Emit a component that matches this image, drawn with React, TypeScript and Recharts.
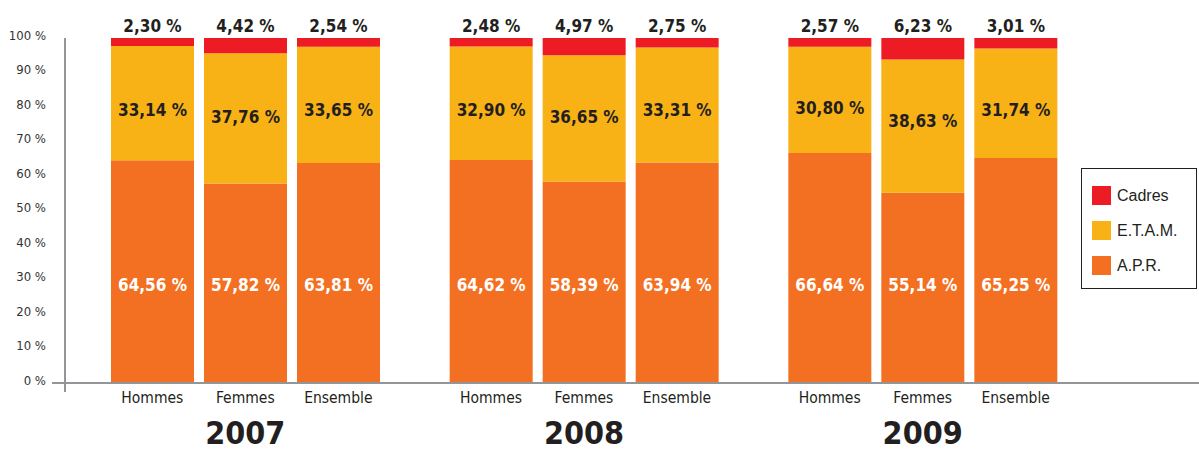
import { BarChart, Bar, XAxis, YAxis, LabelList } from "recharts";

const years = ["2007", "2008", "2009"];
const groups = ["Hommes", "Femmes", "Ensemble"];
const groupKeys = ["h", "f", "e"];

// values per year, in order Hommes / Femmes / Ensemble
const apr = [
  [64.56, 57.82, 63.81],
  [64.62, 58.39, 63.94],
  [66.64, 55.14, 65.25],
];
const etam = [
  [33.14, 37.76, 33.65],
  [32.9, 36.65, 33.31],
  [30.8, 38.63, 31.74],
];
const cadres = [
  [2.3, 4.42, 2.54],
  [2.48, 4.97, 2.75],
  [2.57, 6.23, 3.01],
];
const yTicks = [0, 10, 20, 30, 40, 50, 60, 70, 80, 90, 100];

const RED = "#ed1c24";
const YELLOW = "#f9b216";
const ORANGE = "#f37022";
const INK = "#231f20";
const GREY = "#939598";
const NARROW = "'DejaVu Sans Condensed', 'Liberation Sans', sans-serif";

const data = years.map((year, i) => {
  const row: Record<string, string | number> = { year };
  groupKeys.forEach((k, j) => {
    row[`${k}_apr`] = apr[i][j];
    row[`${k}_etam`] = etam[i][j];
    row[`${k}_cad`] = cadres[i][j];
  });
  return row;
});

const fmt = (v: number) => `${v.toFixed(2).replace(".", ",")} %`;

const BAR = 83;
const GAP = 10;

function YearTick({ x, y, payload }: any) {
  return (
    <g>
      {groups.map((g, j) => (
        <text key={g} x={x + (j - 1) * (BAR + GAP)} y={y + 12} textAnchor="middle"
          fontFamily={NARROW} fontSize={15.5} fill={INK}>{g}</text>
      ))}
      <text x={x} y={y + 53} textAnchor="middle" fontFamily={NARROW} fontSize={32}
        fontWeight="bold" fill={INK}>{payload.value}</text>
    </g>
  );
}

function AprLabel({ x, y, width, height, value }: any) {
  return (
    <text x={x + width / 2} y={y + height - 92} textAnchor="middle" fontFamily={NARROW}
      fontSize={17} fontWeight="bold" fill="#fff">{fmt(value)}</text>
  );
}

// E.T.A.M. labels sit roughly level across bars, nudged toward the segment middle
function EtamLabel({ x, y, width, height, value }: any) {
  const mid = y + height / 2;
  return (
    <text x={x + width / 2} y={(mid + 116) / 2 + 6} textAnchor="middle" fontFamily={NARROW}
      fontSize={17} fontWeight="bold" fill={INK}>{fmt(value)}</text>
  );
}

function CadLabel({ x, y, width, value }: any) {
  return (
    <text x={x + width / 2} y={y - 6} textAnchor="middle" fontFamily={NARROW}
      fontSize={17} fontWeight="bold" fill={INK}>{fmt(value)}</text>
  );
}

const legendItems = [
  { name: "Cadres", color: RED },
  { name: "E.T.A.M.", color: YELLOW },
  { name: "A.P.R.", color: ORANGE },
];

function LegendBox() {
  return (
    <div style={{ position: "absolute", left: 1081, top: 168, border: `1.5px solid ${INK}`, width: 116, height: 121,
      boxSizing: "border-box", padding: "9px 0 0 10px", background: "#fff" }}>
      {legendItems.map((it) => (
        <div key={it.name} style={{ display: "flex", alignItems: "center", height: 35 }}>
          <span style={{ width: 19, height: 19, background: it.color, display: "inline-block", marginRight: 6 }} />
          <span style={{ fontFamily: "'Liberation Sans', sans-serif", fontSize: 16, color: INK }}>{it.name}</span>
        </div>
      ))}
    </div>
  );
}

export default function App() {
  return (
    <div style={{ position: "absolute", left: 0, top: 0, width: 1199, height: 453, background: "#fff" }}>
      <BarChart width={1199} height={453} data={data} margin={{ top: 38, right: 0, bottom: 0, left: 0 }}
        barSize={BAR} barGap={GAP}>
        <XAxis dataKey="year" tick={<YearTick />} tickLine={false} axisLine={{ stroke: GREY, strokeWidth: 2 }}
          padding={{ left: 11, right: 107 }} interval={0} height={70} />
        <YAxis type="number" domain={[0, 100]} ticks={yTicks} width={65} tickLine={false} tickSize={0} tickMargin={19}
          axisLine={{ stroke: GREY, strokeWidth: 2 }} tickFormatter={(v) => `${v} %`}
          tick={{ fontFamily: NARROW, fontSize: 13, fill: "#333", dy: -3 }} />
        {groupKeys.map((k) => [
          <Bar key={`${k}_apr`} dataKey={`${k}_apr`} stackId={k} fill={ORANGE} isAnimationActive={false}>
            <LabelList dataKey={`${k}_apr`} content={<AprLabel />} />
          </Bar>,
          <Bar key={`${k}_etam`} dataKey={`${k}_etam`} stackId={k} fill={YELLOW} isAnimationActive={false}>
            <LabelList dataKey={`${k}_etam`} content={<EtamLabel />} />
          </Bar>,
          <Bar key={`${k}_cad`} dataKey={`${k}_cad`} stackId={k} fill={RED} isAnimationActive={false}>
            <LabelList dataKey={`${k}_cad`} content={<CadLabel />} />
          </Bar>,
        ])}
      </BarChart>
      <LegendBox />
      <svg width={1199} height={453} style={{ position: "absolute", left: 0, top: 0, pointerEvents: "none" }}>
        <line x1={52} y1={383} x2={65} y2={383} stroke={GREY} strokeWidth={2} />
        <line x1={65} y1={383} x2={65} y2={392} stroke={GREY} strokeWidth={2} />
      </svg>
    </div>
  );
}
